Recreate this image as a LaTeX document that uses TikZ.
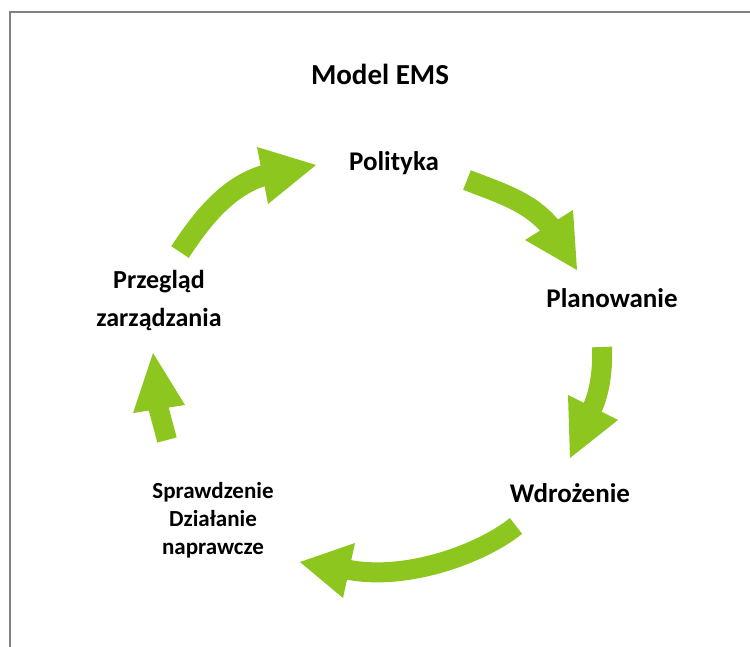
\documentclass[tikz,border=0pt]{standalone}
\usepackage{fontspec}
\setmainfont{Carlito}
\definecolor{emsgreen}{RGB}{140,198,30}
\definecolor{framegray}{RGB}{128,128,128}
\tikzset{
  emsbody/.style={draw=emsgreen,line width=21pt,line cap=butt,shorten >=-4pt},
  emshead/.style={fill=emsgreen},
  lbl/.style={font=\bfseries\fontsize{27}{32}\selectfont,text=black,inner sep=0pt},
  ttl/.style={font=\bfseries\fontsize{29}{34}\selectfont,text=black,inner sep=0pt},
  smalllbl/.style={font=\bfseries\fontsize{23}{28}\selectfont,text=black,inner sep=0pt,align=center},
  midlbl/.style={font=\bfseries\fontsize{26}{38}\selectfont,text=black,inner sep=0pt,align=center},
  frameline/.style={draw=framegray,line width=2pt}
}
\begin{document}
\begin{tikzpicture}[x=1pt,y=-1pt]
\useasboundingbox (0,0) rectangle (750,647);
% frame
\coordinate (fr1) at (10,647);
\coordinate (fr2) at (10,12);
\coordinate (fr3) at (750,12);
\draw[frameline] (fr1) -- (fr2) -- (fr3);

% labels
\node[ttl] (title) at (380,74) {Model EMS};
\node[lbl] (pol) at (394,163) {Polityka};
\node[lbl] (plan) at (612,298) {Planowanie};
\node[lbl] (wdr) at (570,493) {Wdrożenie};
\node[smalllbl] (spr) at (213,520) {Sprawdzenie\\Działanie\\naprawcze};
\node[midlbl] (prz) at (159,300) {Przegląd\\zarządzania};

% arrow 1: Przegląd -> Polityka
\coordinate (a1t) at (180,252);
\coordinate (a1c) at (200,222);
\coordinate (a1d) at (226,186);
\coordinate (a1b) at (262,176);
\coordinate (a1h1) at (257,147);
\coordinate (a1tip) at (316,165);
\coordinate (a1h2) at (268,204);
\draw[emsbody] (a1t) .. controls (a1c) and (a1d) .. (a1b);
\fill[emshead] (a1h1) -- (a1tip) -- (a1h2) -- cycle;

% arrow 2: Polityka -> Planowanie
\coordinate (a2t) at (467,180);
\coordinate (a2c) at (497,192);
\coordinate (a2d) at (530,201);
\coordinate (a2b) at (549,225);
\coordinate (a2h1) at (525,240);
\coordinate (a2tip) at (577,270);
\coordinate (a2h2) at (573,210);
\draw[emsbody] (a2t) .. controls (a2c) and (a2d) .. (a2b);
\fill[emshead] (a2h1) -- (a2tip) -- (a2h2) -- cycle;

% arrow 3: Planowanie -> Wdrozenie
\coordinate (a3t) at (602,347);
\coordinate (a3c) at (603,368);
\coordinate (a3d) at (600,393);
\coordinate (a3b) at (593,407);
\coordinate (a3h1) at (568,395);
\coordinate (a3tip) at (570,458);
\coordinate (a3h2) at (618,420);
\draw[emsbody,line width=20pt] (a3t) .. controls (a3c) and (a3d) .. (a3b);
\fill[emshead] (a3h1) -- (a3tip) -- (a3h2) -- cycle;

% arrow 4: Wdrozenie -> Sprawdzenie
\coordinate (a4t) at (516,526);
\coordinate (a4c) at (481,554);
\coordinate (a4d) at (405,582);
\coordinate (a4b) at (349,570);
\coordinate (a4h1) at (355,543);
\coordinate (a4tip) at (300,562);
\coordinate (a4h2) at (343,598);
\draw[emsbody,line width=20pt] (a4t) .. controls (a4c) and (a4d) .. (a4b);
\fill[emshead] (a4h1) -- (a4tip) -- (a4h2) -- cycle;

% arrow 5: Sprawdzenie -> Przegląd
\coordinate (a5t) at (167,440);
\coordinate (a5b) at (159,410);
\coordinate (a5h1) at (133,413);
\coordinate (a5tip) at (153,353);
\coordinate (a5h2) at (185,405);
\draw[emsbody,line width=20pt] (a5t) -- (a5b);
\fill[emshead] (a5h1) -- (a5tip) -- (a5h2) -- cycle;
\end{tikzpicture}
\end{document}
